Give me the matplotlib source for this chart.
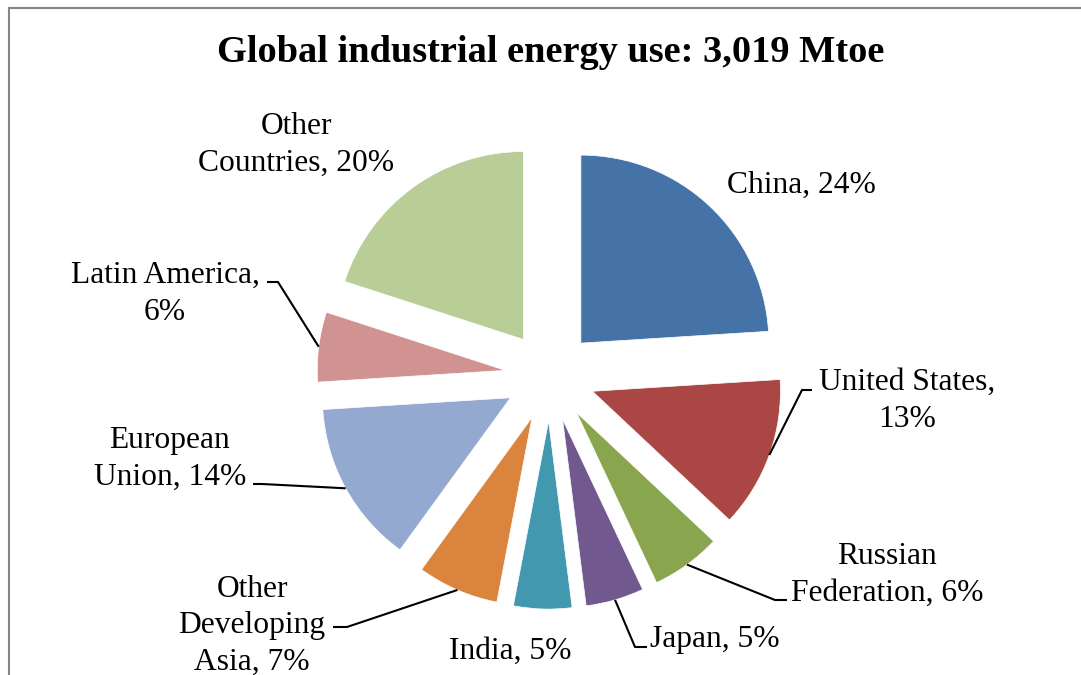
import numpy as np
import matplotlib
matplotlib.use("Agg")
import matplotlib.pyplot as plt
from matplotlib.patches import Rectangle

W, H = 1081, 675

regions = ["China", "United States", "Russian Federation", "Japan", "India",
           "Other Developing Asia", "European Union", "Latin America", "Other Countries"]
shares = [24, 13, 6, 5, 5, 7, 14, 6, 20]
label_text = ["China, 24%", "United States,\n13%", "Russian\nFederation, 6%", "Japan, 5%",
              "India, 5%", "Other\nDeveloping\nAsia, 7%", "European\nUnion, 14%",
              "Latin America,\n6%", "Other\nCountries, 20%"]
colors = ["#4572A7", "#AA4643", "#89A54E", "#71588F", "#4198AF",
          "#DB843D", "#93A9CF", "#D19392", "#B9CD96"]

# layout in pixels (y measured from top)
cx, cy = 550, 376
R = 188
EXPL = 0.24
label_pos = [(801, 185), (907, 401), (887, 575), (715, 640), (510, 651),
             (252, 626), (170, 459), (165, 294), (296, 145)]
# leader line: (elbow, end) for labels that have one
leaders = {1: ((802, 390), (812, 390)),
           2: ((775, 600), (787, 600)),
           3: ((635, 647), (647, 647)),
           5: ((347, 627), (333, 627)),
           6: ((262, 484), (253, 484)),
           7: ((278, 282), (267, 282))}

plt.rcParams["font.family"] = ["Liberation Serif", "DejaVu Serif"]

fig = plt.figure(figsize=(W / 100, H / 100), dpi=100)
ax = fig.add_axes([0, 0, 1, 1])

wedges, _ = ax.pie(shares, explode=[EXPL * R] * len(shares), radius=R,
                   center=(cx, H - cy), startangle=90, counterclock=False,
                   colors=colors, frame=False,
                   wedgeprops=dict(edgecolor="white", linewidth=0.5))

ax.set_xlim(0, W)
ax.set_ylim(0, H)
ax.set_aspect("equal")
ax.axis("off")

# chart border (right and bottom edges fall outside the picture)
ax.add_patch(Rectangle((9, -20), W + 20, H - 8 + 20, fill=False,
                       edgecolor="#868686", linewidth=1.5, clip_on=False))

ax.text(551, H - 52, "Global industrial energy use: 3,019 Mtoe",
        ha="center", va="center", fontsize=27.6, fontweight="bold")

for i, (txt, (lx, ly)) in enumerate(zip(label_text, label_pos)):
    ax.text(lx, H - ly, txt, ha="center", va="center", multialignment="center",
            fontsize=22.7, linespacing=1.35)

for i, (elbow, end) in leaders.items():
    w = wedges[i]
    bis = np.deg2rad((w.theta1 + w.theta2) / 2)
    ax_ = w.center[0] + R * np.cos(bis)
    ay_ = w.center[1] + R * np.sin(bis)
    ax.plot([ax_, elbow[0], end[0]], [ay_, H - elbow[1], H - end[1]],
            color="black", linewidth=1.5, solid_capstyle="butt")

fig.savefig("out.png", dpi=100)
